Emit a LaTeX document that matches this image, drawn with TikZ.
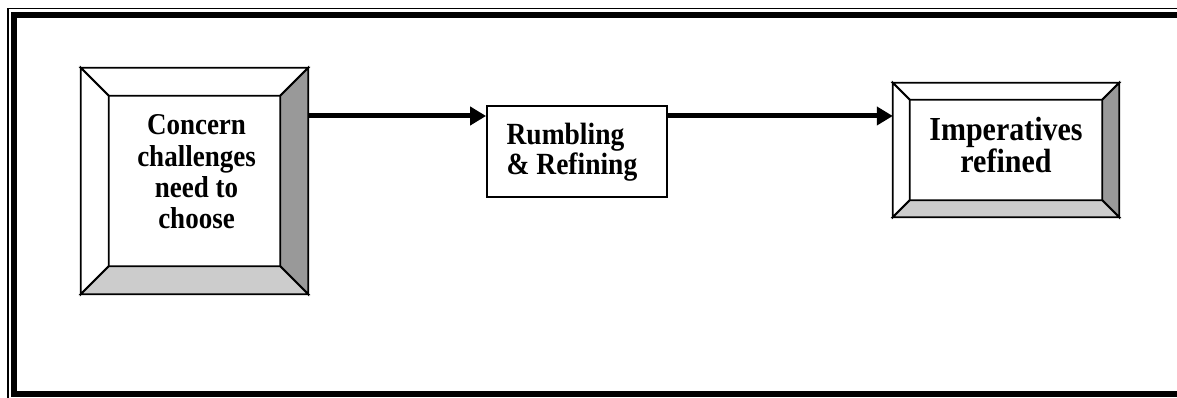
\documentclass[tikz,border=0pt]{standalone}
\usepackage{fontspec}
\setmainfont{Liberation Serif}
\usepackage{tikz}
\usetikzlibrary{calc,arrows.meta}

\tikzset{
  edge/.style={draw, line width=1.8pt},
  plainbox/.style={draw, line width=1.8pt, fill=white, inner sep=0pt},
  boxtext/.style={align=center, yscale=1.12, transform shape, font=\bfseries\fontsize{27}{28}\selectfont},
  flow/.style={line width=5pt, -{Triangle[length=16pt,width=18pt]}}
}

\newcommand{\bevelbox}[2]{%
  \draw[edge, fill=white] (#1.north west) -- (#1.north east) -- ($(#1.north east)+(-#2,-#2)$) -- ($(#1.north west)+(#2,-#2)$) -- cycle;
  \draw[edge, fill=white] (#1.north west) -- (#1.south west) -- ($(#1.south west)+(#2,#2)$) -- ($(#1.north west)+(#2,-#2)$) -- cycle;
  \draw[edge, fill=black!40] (#1.north east) -- (#1.south east) -- ($(#1.south east)+(-#2,#2)$) -- ($(#1.north east)+(-#2,-#2)$) -- cycle;
  \draw[edge, fill=black!20] (#1.south west) -- (#1.south east) -- ($(#1.south east)+(-#2,#2)$) -- ($(#1.south west)+(#2,#2)$) -- cycle;
}

\begin{document}
\begin{tikzpicture}[x=1pt, y=1pt]
    \useasboundingbox (0,0) rectangle (1177,398);
    \fill[white] (0,0) rectangle (1177,398);

    \draw[line width=1.3pt] (8,-5) -- (8,389.5) -- (1190,389.5);
    \draw[line width=6pt] (1190,383) -- (14,383) -- (14,3.5) -- (1190,3.5);

    \node[inner sep=0pt, minimum width=227pt, minimum height=226pt] (concern) at (194.5,217) {};
    \bevelbox{concern}{28pt}
    \node[boxtext] (concerntext) at ([xshift=2pt, yshift=9pt]concern.center)
      {Concern\\challenges\\need to\\choose};

    \node[plainbox, minimum width=180pt, minimum height=91pt] (rumbling) at (577,246.5) {};
    \node[boxtext, anchor=west, align=left, font=\bfseries\fontsize{27.5}{25}\selectfont] (rumblingtext)
      at ([xshift=17pt, yshift=-1pt]rumbling.west) {Rumbling\\\& Refining};

    \node[inner sep=0pt, minimum width=226pt, minimum height=134pt] (imperatives) at (1006,248) {};
    \bevelbox{imperatives}{17pt}
    \node[boxtext, font=\bfseries\fontsize{30}{28.5}\selectfont] (imperativestext)
      at ([yshift=5pt]imperatives.center) {Imperatives\\refined};

    \draw[flow] ([yshift=65pt]concern.east) -- ([yshift=35.5pt]rumbling.west);
    \draw[flow] ([yshift=35.5pt]rumbling.east) -- ([yshift=34pt]imperatives.west);
\end{tikzpicture}
\end{document}
